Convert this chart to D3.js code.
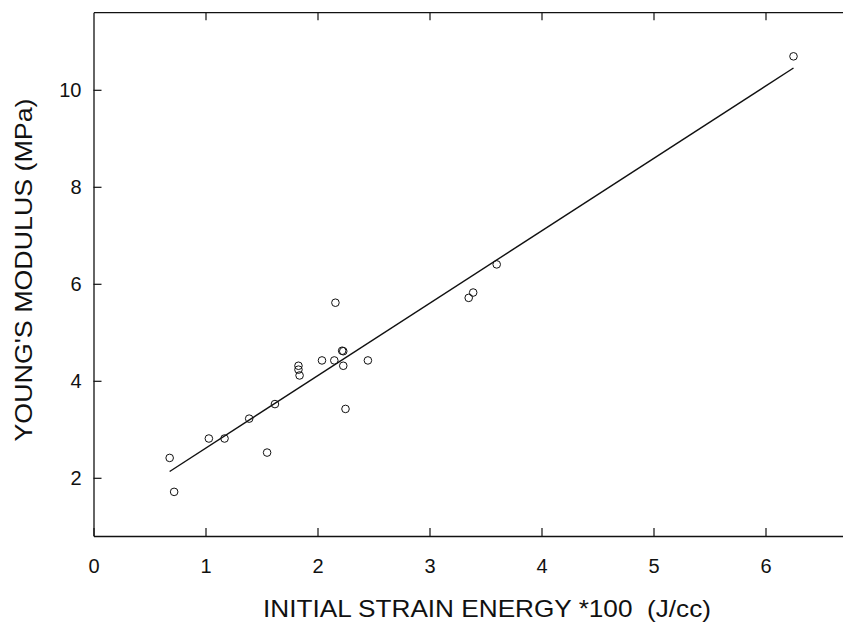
<!DOCTYPE html>
<html>
<head>
<meta charset="utf-8">
<script src="https://cdn.jsdelivr.net/npm/d3@7"></script>
<style>
  body { margin: 0; background: white; }
  text { font-family: "Liberation Sans", Arial, sans-serif; fill: #111; }
</style>
</head>
<body>
<div id="viz-container"></div>
<script>
let w = 843;
let h = 622;

// strain energy (*100, J/cc) and young's modulus (MPa)
let energy  = [0.68, 0.72, 1.03, 1.17, 1.39, 1.55, 1.62, 1.83, 1.83, 1.84, 2.04, 2.15, 2.16, 2.22, 2.23, 2.23, 2.25, 2.45, 3.35, 3.39, 3.60, 6.25];
let modulus = [2.41, 1.71, 2.81, 2.81, 3.22, 2.52, 3.52, 4.31, 4.23, 4.11, 4.42, 4.42, 5.61, 4.62, 4.61, 4.31, 3.42, 4.42, 5.71, 5.82, 6.40, 10.69];

// fitted line end points
let fitX = [0.68, 6.25];
let fitY = [2.13, 10.45];

let xTicks = [0, 1, 2, 3, 4, 5, 6];
let yTicks = [2, 4, 6, 8, 10];

let points = energy.map(function(e, i){ return {x: e, y: modulus[i]}; });
let fit = fitX.map(function(e, i){ return {x: e, y: fitY[i]}; });

let viz = d3.select("#viz-container")
  .append("svg")
    .attr("width", w)
    .attr("height", h)
    .style("background-color", "white")
;

let x = d3.scaleLinear().domain([0, 6.7]).range([93.5, 843.9]);
let y = d3.scaleLinear().domain([0.8, 11.6]).range([536, 12.2]);

// bottom axis, ticks point inward
viz.append("g")
  .attr("transform", "translate(0,536)")
  .call(d3.axisBottom(x).tickValues(xTicks).tickFormat(d3.format("d")).tickSizeInner(-8).tickSizeOuter(0).tickPadding(23));

// top axis, no labels
viz.append("g")
  .attr("transform", "translate(0,12.2)")
  .call(d3.axisTop(x).tickValues(xTicks.slice(1)).tickFormat("").tickSizeInner(-8).tickSizeOuter(0));

// left axis
viz.append("g")
  .attr("transform", "translate(93.5,0)")
  .call(d3.axisLeft(y).tickValues(yTicks).tickFormat(d3.format("d")).tickSizeInner(-8).tickSizeOuter(0).tickPadding(12));

viz.selectAll(".domain").attr("stroke", "#111").attr("stroke-width", 1.3);
viz.selectAll(".tick line").attr("stroke", "#111").attr("stroke-width", 1.2);
viz.selectAll(".tick text").style("font-size", "20px").style("font-family", "Liberation Sans, Arial, sans-serif").attr("fill", "#111");

// regression line
let line = d3.line()
  .x(function(d){ return x(d.x); })
  .y(function(d){ return y(d.y); });

viz.append("path")
  .datum(fit)
  .attr("d", line)
  .attr("fill", "none")
  .attr("stroke", "#111")
  .attr("stroke-width", 1.4);

// data points
viz.selectAll(".pt").data(points).enter()
  .append("circle")
    .attr("class", "pt")
    .attr("cx", function(d){ return x(d.x); })
    .attr("cy", function(d){ return y(d.y); })
    .attr("r", 3.8)
    .attr("fill", "none")
    .attr("stroke", "#111")
    .attr("stroke-width", 1)
;

// axis titles (the original type is a bit wider than Arial)
viz.append("text")
  .attr("x", 487)
  .attr("y", 617)
  .attr("text-anchor", "middle")
  .attr("textLength", 448)
  .attr("lengthAdjust", "spacingAndGlyphs")
  .style("font-size", "24px")
  .style("white-space", "pre")
  .text("INITIAL STRAIN ENERGY *100  (J/cc)");

viz.append("text")
  .attr("transform", "translate(32,270) rotate(-90)")
  .attr("text-anchor", "middle")
  .attr("textLength", 343)
  .attr("lengthAdjust", "spacingAndGlyphs")
  .style("font-size", "24px")
  .text("YOUNG'S MODULUS (MPa)");
</script>
</body>
</html>
